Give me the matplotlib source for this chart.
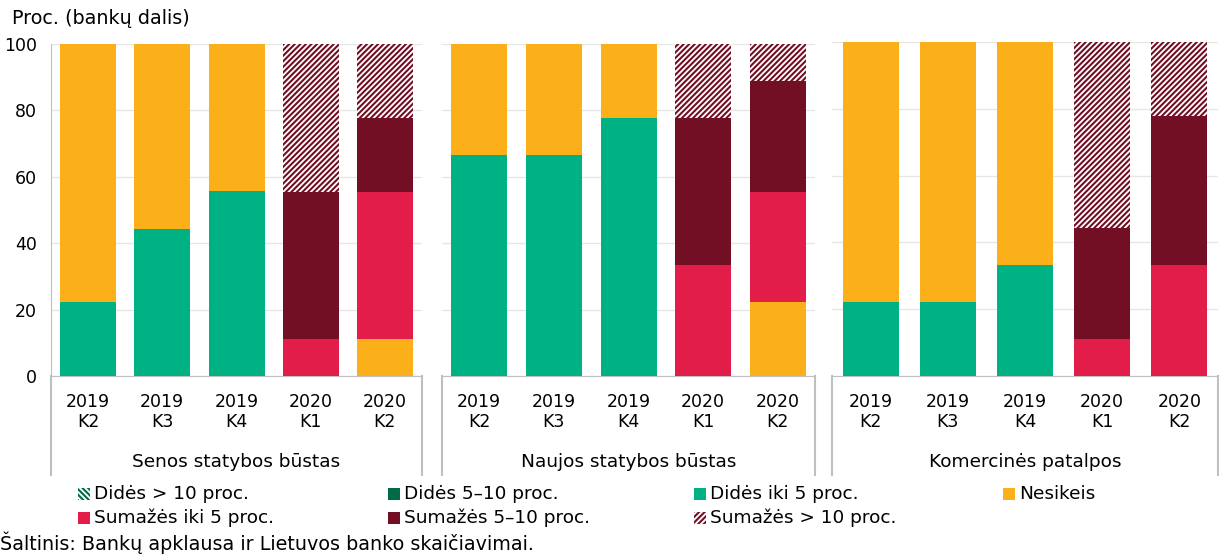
import matplotlib
matplotlib.use("Agg")
import matplotlib.pyplot as plt
from matplotlib.patches import Rectangle
from matplotlib.lines import Line2D
import numpy as np

plt.rcParams['font.family'] = ['DejaVu Sans']
plt.rcParams['hatch.linewidth'] = 1.5

quarters = ["2019\nK2", "2019\nK3", "2019\nK4", "2020\nK1", "2020\nK2"]
groups = ["Senos statybos būstas", "Naujos statybos būstas", "Komercinės patalpos"]
series = ["Didės > 10 proc.", "Didės 5–10 proc.", "Didės iki 5 proc.", "Nesikeis",
          "Sumažės iki 5 proc.", "Sumažės 5–10 proc.", "Sumažės > 10 proc."]

# values per group: rows = series, cols = quarters
senos = {
    "Didės > 10 proc.":   [0, 0, 0, 0, 0],
    "Didės 5–10 proc.":   [0, 0, 0, 0, 0],
    "Didės iki 5 proc.":  [22.2, 44.4, 55.6, 0, 0],
    "Nesikeis":           [77.8, 55.6, 44.4, 0, 11.1],
    "Sumažės iki 5 proc.": [0, 0, 0, 11.1, 44.4],
    "Sumažės 5–10 proc.": [0, 0, 0, 44.4, 22.2],
    "Sumažės > 10 proc.": [0, 0, 0, 44.4, 22.2],
}
naujos = {
    "Didės > 10 proc.":   [0, 0, 0, 0, 0],
    "Didės 5–10 proc.":   [0, 0, 0, 0, 0],
    "Didės iki 5 proc.":  [66.7, 66.7, 77.8, 0, 0],
    "Nesikeis":           [33.3, 33.3, 22.2, 0, 22.2],
    "Sumažės iki 5 proc.": [0, 0, 0, 33.3, 33.3],
    "Sumažės 5–10 proc.": [0, 0, 0, 44.4, 33.3],
    "Sumažės > 10 proc.": [0, 0, 0, 22.2, 11.1],
}
komercines = {
    "Didės > 10 proc.":   [0, 0, 0, 0, 0],
    "Didės 5–10 proc.":   [0, 0, 0, 0, 0],
    "Didės iki 5 proc.":  [22.2, 22.2, 33.3, 0, 0],
    "Nesikeis":           [77.8, 77.8, 66.7, 0, 0],
    "Sumažės iki 5 proc.": [0, 0, 0, 11.1, 33.3],
    "Sumažės 5–10 proc.": [0, 0, 0, 33.3, 44.4],
    "Sumažės > 10 proc.": [0, 0, 0, 55.6, 22.2],
}
data = [senos, naujos, komercines]

styles = {
    "Didės > 10 proc.":   dict(face="white", edge="#006B45", hatch="\\\\\\\\\\\\"),
    "Didės 5–10 proc.":   dict(face="#006B45", edge="#006B45", hatch=None),
    "Didės iki 5 proc.":  dict(face="#00B183", edge="#00B183", hatch=None),
    "Nesikeis":           dict(face="#FBB01A", edge="#FBB01A", hatch=None),
    "Sumažės iki 5 proc.": dict(face="#E31D4A", edge="#E31D4A", hatch=None),
    "Sumažės 5–10 proc.": dict(face="#730F25", edge="#730F25", hatch=None),
    "Sumažės > 10 proc.": dict(face="white", edge="#730F25", hatch="//////"),
}

W, H = 1219, 557
fig = plt.figure(figsize=(W / 100, H / 100), dpi=100)

# axes extents in pixels: (left, right, top)
extents = [(51, 422, 44), (442, 815, 44), (832, 1218, 42)]
zero_y = 376
sep_bottom = 475
FS_TICK = 12.5
FS_GROUP = 13.3
FS_LEG = 13.3
FS_BIG = 13.8
grid_c = "#E6E6E6"
spine_c = "#BFBFBF"

for gi, (dd, (l, r, t)) in enumerate(zip(data, extents)):
    ax = fig.add_axes([l / W, 1 - zero_y / H, (r - l) / W, (zero_y - t) / H])
    x = np.arange(len(quarters))
    bottom = np.zeros(len(quarters))
    slot = (r - l) / 5
    bw = 56 / slot
    for s in series:
        vals = np.array(dd[s], dtype=float)
        st = styles[s]
        if vals.sum() > 0:
            ax.bar(x, vals, bottom=bottom, width=bw, color=st["face"],
                   edgecolor=st["edge"], hatch=st["hatch"], linewidth=0, zorder=3)
        bottom += vals
    ax.set_xlim(-0.5, 4.5)
    ax.set_ylim(0, 100)
    ax.set_yticks([0, 20, 40, 60, 80, 100])
    ax.grid(axis="y", color=grid_c, linewidth=1, zorder=0)
    ax.set_axisbelow(True)
    ax.set_xticks(x)
    ax.set_xticklabels(quarters, fontsize=FS_TICK, linespacing=1.2)
    ax.tick_params(axis="x", length=0, pad=12)
    for sp in ["top", "right"]:
        ax.spines[sp].set_visible(False)
    ax.spines["bottom"].set_color(spine_c)
    ax.spines["left"].set_color(spine_c)
    if gi == 0:
        ax.tick_params(axis="y", length=0, labelsize=FS_TICK, pad=10)
        ax.spines["left"].set_visible(True)
    else:
        ax.spines["left"].set_visible(False)
        ax.tick_params(axis="y", length=0, labelleft=False)
    # group separators below the axis
    ybot = -(sep_bottom - zero_y) / (zero_y - t)
    for xx in (0, 1):
        ax.add_line(Line2D([xx, xx], [0, ybot], transform=ax.transAxes,
                           color=spine_c, linewidth=1.5, clip_on=False))
    ax.text(0.5, -(462 - zero_y) / (zero_y - t), groups[gi], transform=ax.transAxes,
            ha="center", va="center", fontsize=FS_GROUP)

fig.text(12 / W, 1 - 19 / H, "Proc. (bankų dalis)", fontsize=FS_BIG, ha="left", va="center")

# legend (manual layout)
leg_pos = {
    "Didės > 10 proc.": (78, 494),
    "Didės 5–10 proc.": (388, 494),
    "Didės iki 5 proc.": (694, 494),
    "Nesikeis": (1003, 494),
    "Sumažės iki 5 proc.": (78, 518),
    "Sumažės 5–10 proc.": (388, 518),
    "Sumažės > 10 proc.": (694, 518),
}
ms = 12
for s in series:
    px, py = leg_pos[s]
    st = styles[s]
    rect = Rectangle((px / W, 1 - (py + ms / 2) / H), ms / W, ms / H,
                     transform=fig.transFigure, facecolor=st["face"],
                     edgecolor=st["edge"], hatch=st["hatch"], linewidth=0)
    fig.add_artist(rect)
    fig.text((px + ms + 4) / W, 1 - py / H, s, fontsize=FS_LEG, ha="left", va="center")

fig.text(0 / W, 1 - 543 / H, "Šaltinis: Bankų apklausa ir Lietuvos banko skaičiavimai.",
         fontsize=FS_BIG, ha="left", va="center")

fig.savefig("out.png", dpi=100)
